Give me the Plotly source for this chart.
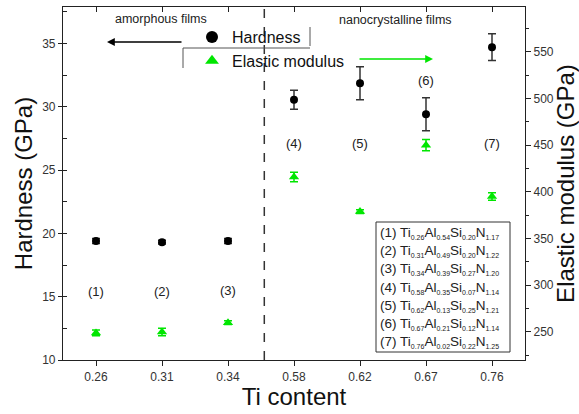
import plotly.graph_objects as go

# ---- data ----
ti_content = ["0.26", "0.31", "0.34", "0.58", "0.62", "0.67", "0.76"]
hardness = [19.4, 19.3, 19.4, 30.55, 31.85, 29.4, 34.7]
hardness_err = [0.2, 0.15, 0.2, 0.75, 1.3, 1.3, 1.05]
modulus = [249, 250, 260, 416, 379, 450, 395]
modulus_err = [3, 4, 2, 5, 2, 6, 4]
sample_labels = ["(1)", "(2)", "(3)", "(4)", "(5)", "(6)", "(7)"]
label_y = [15.4, 15.4, 15.5, 27.1, 27.1, 32.1, 27.1]
comp_ti = ["0.26", "0.31", "0.34", "0.58", "0.62", "0.67", "0.76"]
comp_al = ["0.54", "0.49", "0.39", "0.35", "0.13", "0.21", "0.02"]
comp_si = ["0.20", "0.20", "0.27", "0.07", "0.25", "0.12", "0.22"]
comp_n = ["1.17", "1.22", "1.20", "1.14", "1.21", "1.14", "1.25"]

FONT = "Liberation Sans, Arial, sans-serif"
W, H = 579, 414
L, R, T, B = 63, 54, 7, 54
pw, ph = W - L - R, H - T - B

def px(x):
    return (x - L) / pw

def py(y):
    return 1 - (y - T) / ph

xi = list(range(len(ti_content)))
GREEN = "#00e600"

fig = go.Figure()
fig.add_trace(go.Scatter(
    x=xi, y=hardness, mode="markers", name="Hardness",
    marker=dict(symbol="circle", size=8, color="black"),
    error_y=dict(type="data", array=hardness_err, color="#333333", thickness=1.5, width=4),
))
fig.add_trace(go.Scatter(
    x=xi, y=modulus, mode="markers", name="Elastic modulus", yaxis="y2",
    marker=dict(symbol="triangle-up", size=9, color=GREEN),
    error_y=dict(type="data", array=modulus_err, color=GREEN, thickness=1.5, width=4),
))
# invisible trace for the top axis
fig.add_trace(go.Scatter(x=xi, y=hardness, xaxis="x2", mode="markers",
                         marker=dict(opacity=0), showlegend=False, hoverinfo="skip"))

annotations = []
for i, lab in enumerate(sample_labels):
    annotations.append(dict(x=i, y=label_y[i], xref="x", yref="y", text=lab, showarrow=False,
                            font=dict(family=FONT, size=13, color="#222")))

annotations.append(dict(x=px(161), y=py(19), xref="paper", yref="paper", text="amorphous films",
                        xanchor="center", yanchor="middle",
                        showarrow=False, font=dict(family=FONT, size=12.5, color="#222")))
annotations.append(dict(x=px(395), y=py(20), xref="paper", yref="paper", text="nanocrystalline films",
                        xanchor="center", yanchor="middle",
                        showarrow=False, font=dict(family=FONT, size=12.5, color="#222")))
# arrows
annotations.append(dict(x=px(107), y=py(42), xref="paper", yref="paper", ax=76, ay=0, text="",
                        showarrow=True, arrowhead=2, arrowsize=1.2, arrowwidth=1.3, arrowcolor="black"))
annotations.append(dict(x=px(433), y=py(59), xref="paper", yref="paper", ax=-75, ay=0, text="",
                        showarrow=True, arrowhead=2, arrowsize=1.2, arrowwidth=1.3, arrowcolor=GREEN))

# composition lines
sub = lambda s: "<sub><span style='font-size:7px'>%s</span></sub>" % s
for i in range(len(sample_labels)):
    txt = "%s Ti%sAl%sSi%sN%s" % (sample_labels[i], sub(comp_ti[i]), sub(comp_al[i]),
                                  sub(comp_si[i]), sub(comp_n[i]))
    annotations.append(dict(x=px(378), y=py(233 + i * 18.2), xref="paper", yref="paper",
                            xanchor="left", yanchor="middle", text=txt, showarrow=False,
                            font=dict(family=FONT, size=13.5, color="#222")))

shapes = [
    dict(type="line", xref="x", yref="paper", x0=2.55, x1=2.55, y0=0, y1=1,
         line=dict(color="#333", width=1.5, dash="dash")),
    dict(type="rect", xref="paper", yref="paper", x0=px(376), x1=px(510), y0=py(352), y1=py(222),
         line=dict(color="#333", width=1)),
    dict(type="line", xref="paper", yref="paper", x0=px(183), x1=px(310), y0=py(48), y1=py(48),
         line=dict(color="#555", width=1)),
    dict(type="line", xref="paper", yref="paper", x0=px(183), x1=px(183), y0=py(48), y1=py(68),
         line=dict(color="#555", width=1)),
    dict(type="line", xref="paper", yref="paper", x0=px(310), x1=px(310), y0=py(27), y1=py(46),
         line=dict(color="#555", width=1)),
]

tickfont = dict(family=FONT, size=12, color="#333")
titlefont = dict(family=FONT, size=24, color="#111")
fig.update_layout(
    width=W, height=H, margin=dict(l=L, r=R, t=T, b=B),
    paper_bgcolor="white", plot_bgcolor="white",
    font=dict(family=FONT),
    showlegend=True,
    legend=dict(x=px(192), y=py(20), xanchor="left", yanchor="top", bgcolor="rgba(0,0,0,0)",
                font=dict(family=FONT, size=16, color="#111"), tracegroupgap=0, itemsizing="constant"),
    xaxis=dict(range=[-0.5, 6.5], tickvals=xi, ticktext=ti_content, ticks="outside", ticklen=5,
               tickcolor="#222", showline=True, linecolor="#222", linewidth=1.2, showgrid=False,
               zeroline=False, tickfont=tickfont,
               title=dict(text="Ti content", font=titlefont, standoff=4)),
    xaxis2=dict(range=[-0.5, 6.5], overlaying="x", side="top", tickvals=xi, ticks="inside", ticklen=5,
                tickcolor="#222", showline=True, linecolor="#222", linewidth=1.2, showticklabels=False,
                showgrid=False, zeroline=False),
    yaxis=dict(range=[10, 37.87], dtick=5, tick0=10, ticks="outside", ticklen=4, tickcolor="#222",
               showline=True, linecolor="#222", linewidth=1.2, showgrid=False, zeroline=False,
               tickfont=tickfont,
               minor=dict(dtick=2.5, ticks="inside", ticklen=4, tickcolor="#222"),
               title=dict(text="Hardness (GPa)", font=titlefont, standoff=2)),
    yaxis2=dict(range=[220, 598], overlaying="y", side="right", tickvals=[250, 300, 350, 400, 450, 500, 550],
                ticks="outside", ticklen=5, tickcolor="#222", showline=True, linecolor="#222", linewidth=1.2,
                showgrid=False, zeroline=False, tickfont=tickfont,
                minor=dict(tickvals=[225, 275, 325, 375, 425, 475, 525, 575], ticks="outside", ticklen=3,
                           tickcolor="#222"),
                title=dict(text="Elastic modulus (GPa)", font=titlefont, standoff=1)),
    annotations=annotations, shapes=shapes,
)

fig.write_html("out.html")
